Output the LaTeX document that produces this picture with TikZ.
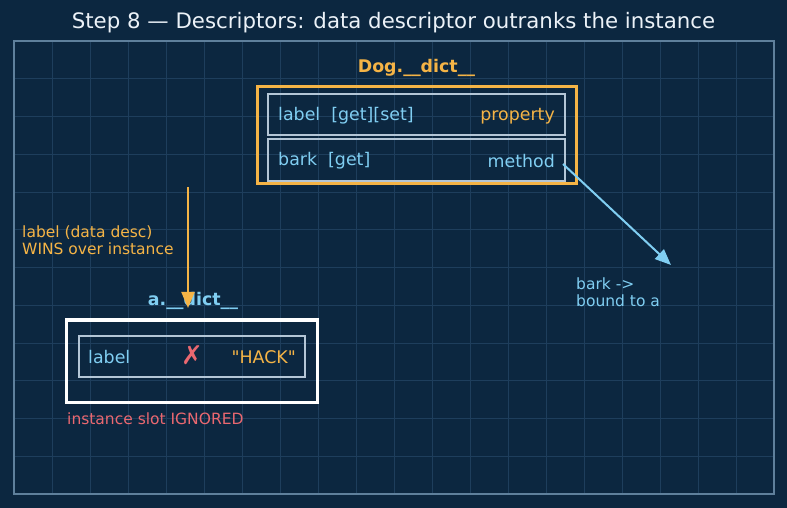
\documentclass[tikz,border=0pt]{standalone}
\usepackage{fontspec}
\setmainfont{DejaVu Sans}
\usetikzlibrary{arrows.meta}
\definecolor{bgc}{RGB}{12,39,64}
\definecolor{gridc}{RGB}{30,62,92}
\definecolor{framec}{RGB}{95,128,156}
\definecolor{orng}{RGB}{245,180,70}
\definecolor{lblue}{RGB}{128,206,242}
\definecolor{redc}{RGB}{234,104,112}
\definecolor{rowc}{RGB}{180,198,214}
\definecolor{titlec}{RGB}{236,242,248}
\tikzset{
  txt/.style={inner sep=0pt, font=\fontsize{17.4bp}{21bp}\selectfont},
  small/.style={inner sep=0pt, align=left, font=\fontsize{15.5bp}{17bp}\selectfont},
  bold/.style={inner sep=0pt, font=\bfseries\fontsize{17.4bp}{21bp}\selectfont},
  rowbox/.style={draw=rowc, line width=1.5bp, inner sep=0pt, rectangle},
  outerbox/.style={draw, line width=3bp, inner sep=0pt, rectangle},
  arr/.style={line width=2bp, -{Triangle[length=16bp,width=13bp]}},
}
\begin{document}
\begin{tikzpicture}[x=1bp,y=-1bp]
\useasboundingbox (0,0) rectangle (787,508);
\fill[bgc] (0,0) rectangle (787,508);
% grid
\foreach \i in {1,...,19} \draw[gridc, line width=0.8bp] (14+38*\i,41) -- (14+38*\i,494);
\foreach \j in {1,...,11} \draw[gridc, line width=0.8bp] (14,41+37.75*\j) -- (774,41+37.75*\j);
\draw[framec, line width=1.5bp] (14,41) rectangle (774,494);
% title
\node[inner sep=0pt, text=titlec, font=\fontsize{21.3bp}{25bp}\selectfont] (title) at (393.5,23) {Step 8 — Descriptors: data descriptor outranks the instance};
% Dog.__dict__
\node[bold, text=orng] (doglbl) at (416.5,67.5) {Dog.\_\_dict\_\_};
\node[outerbox, draw=orng, minimum width=319bp, minimum height=97bp] (dogbox) at (416.5,135.5) {};
\node[rowbox, minimum width=297bp, minimum height=41bp] (row1) at (416.5,114.5) {};
\node[rowbox, minimum width=297bp, minimum height=42bp] (row2) at (416.5,160) {};
\node[txt, text=lblue, anchor=west] (r1l) at (278,116) {label\ \ [get][set]};
\node[txt, text=orng, anchor=east] (r1r) at (555,116) {property};
\node[txt, text=lblue, anchor=west] (r2l) at (278,161) {bark\ \ [get]};
\node[txt, text=lblue, anchor=east] (r2r) at (555,161) {method};
% left annotation
\node[small, text=orng, anchor=west] (wins) at (22,240.5) {label (data desc)\\WINS over instance};
% a.__dict__
\node[bold, text=lblue] (albl) at (193,300.5) {a.\_\_dict\_\_};
\node[outerbox, draw=white, minimum width=250bp, minimum height=82bp] (abox) at (192,361) {};
\node[rowbox, minimum width=226bp, minimum height=41bp] (arow) at (192,356.5) {};
\node[txt, text=lblue, anchor=west] (al) at (88,357) {label};
\node[inner sep=0pt, text=redc, font=\bfseries\fontsize{26bp}{28bp}\selectfont] (ax) at (192,355) {✗};
\node[txt, text=orng, anchor=east] (ar) at (296,357) {\textquotedbl HACK\textquotedbl};
\node[small, text=redc, anchor=west] (ign) at (67,419) {instance slot IGNORED};
% right annotation
\node[small, text=lblue, anchor=west] (bound) at (576,292.5) {bark ->\\bound to a};
% arrows
\coordinate (ostart) at (188,187);
\coordinate (oend) at (188,308);
\draw[arr, orng] (ostart) -- (oend);
\coordinate (bstart) at (563,164);
\coordinate (bend) at (671,265);
\draw[arr, lblue] (bstart) -- (bend);
\end{tikzpicture}
\end{document}
